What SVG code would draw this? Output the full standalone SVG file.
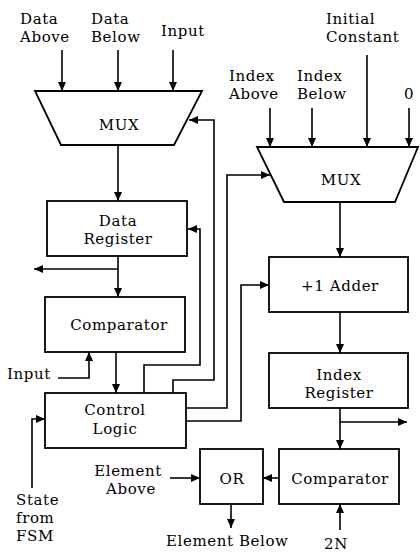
<svg xmlns="http://www.w3.org/2000/svg" width="420" height="554" viewBox="0 0 420 554">
<style>
.box{fill:#fff;stroke:#000;stroke-width:1.8}
.ln{fill:none;stroke:#000;stroke-width:1.6;marker-end:url(#ah)}
text{font-family:"DejaVu Serif","Liberation Serif",serif;font-size:15px;letter-spacing:0.6px;fill:#000}
.c{text-anchor:middle}
</style>
<defs>
<marker id="ah" markerUnits="userSpaceOnUse" markerWidth="10" markerHeight="8" refX="9" refY="4" orient="auto">
<path d="M0,0 L9,4 L0,8 Z" fill="#000"/>
</marker>
</defs>
<g id="connectors">
<line class="ln" x1="62" y1="50" x2="62" y2="91"/>
<line class="ln" x1="118" y1="50" x2="118" y2="91"/>
<line class="ln" x1="173" y1="50" x2="173" y2="91"/>
<line class="ln" x1="270" y1="108" x2="270" y2="147"/>
<line class="ln" x1="312" y1="108" x2="312" y2="147"/>
<line class="ln" x1="367" y1="55" x2="367" y2="147"/>
<line class="ln" x1="409" y1="108" x2="409" y2="147"/>
<line class="ln" x1="118" y1="145" x2="118" y2="201"/>
<line class="ln" x1="118" y1="256" x2="118" y2="297"/>
<line class="ln" x1="118" y1="269" x2="34" y2="269"/>
<line class="ln" x1="116" y1="352" x2="116" y2="393"/>
<polyline class="ln" points="58,378 89,378 89,352"/>
<polyline class="ln" points="144,393 144,365 200,365 200,229 188,229"/>
<polyline class="ln" points="173,393 173,380 214,380 214,120 189,120"/>
<polyline class="ln" points="186,408 227,408 227,175 270,175"/>
<polyline class="ln" points="186,421 241,421 241,285 269,285"/>
<line class="ln" x1="340" y1="202" x2="340" y2="257"/>
<line class="ln" x1="340" y1="312" x2="340" y2="353"/>
<line class="ln" x1="340" y1="408" x2="340" y2="449"/>
<line class="ln" x1="340" y1="422" x2="407" y2="422"/>
<line class="ln" x1="279" y1="478" x2="263" y2="478"/>
<line class="ln" x1="231" y1="504" x2="231" y2="528"/>
<line class="ln" x1="340" y1="530" x2="340" y2="504"/>
<line class="ln" x1="170" y1="478" x2="200" y2="478"/>
<polyline class="ln" points="32,488 32,419 45,419"/>
</g>
<g id="mux-left">
<polygon class="box" points="35,91 202,91 174,145 61,145"/>
<text class="c" x="119" y="130">MUX</text>
</g>
<g id="mux-right">
<polygon class="box" points="257,147 418,147 395,202 284,202"/>
<text class="c" x="341" y="185">MUX</text>
</g>
<g id="data-register">
<rect class="box" x="47" y="201" width="140" height="55"/>
<text class="c" x="118" y="226">Data</text>
<text class="c" x="118" y="244">Register</text>
</g>
<g id="comparator-left">
<rect class="box" x="45" y="297" width="140" height="55"/>
<text class="c" x="119" y="330">Comparator</text>
</g>
<g id="control-logic">
<rect class="box" x="45" y="393" width="141" height="55"/>
<text class="c" x="115" y="415">Control</text>
<text class="c" x="115" y="434">Logic</text>
</g>
<g id="adder">
<rect class="box" x="269" y="257" width="139" height="55"/>
<text class="c" x="340" y="291">+1 Adder</text>
</g>
<g id="index-register">
<rect class="box" x="269" y="353" width="139" height="55"/>
<text class="c" x="339" y="380">Index</text>
<text class="c" x="339" y="398">Register</text>
</g>
<g id="or">
<rect class="box" x="200" y="449" width="63" height="55"/>
<text class="c" x="232" y="484">OR</text>
</g>
<g id="comparator-right">
<rect class="box" x="279" y="449" width="120" height="55"/>
<text class="c" x="340" y="484">Comparator</text>
</g>
<g id="labels">
<text x="20" y="24">Data</text>
<text x="20" y="42">Above</text>
<text x="91" y="24">Data</text>
<text x="91" y="42">Below</text>
<text x="161" y="36">Input</text>
<text x="326" y="24">Initial</text>
<text x="326" y="42">Constant</text>
<text x="229" y="81">Index</text>
<text x="229" y="99">Above</text>
<text x="297" y="81">Index</text>
<text x="297" y="99">Below</text>
<text class="c" x="409" y="99">0</text>
<text x="7" y="379">Input</text>
<text class="c" x="128" y="476">Element</text>
<text class="c" x="131" y="494">Above</text>
<text x="16" y="505">State</text>
<text x="16" y="523">from</text>
<text x="16" y="541">FSM</text>
<text x="166" y="546">Element Below</text>
<text class="c" x="336" y="549">2N</text>
</g>
</svg>
